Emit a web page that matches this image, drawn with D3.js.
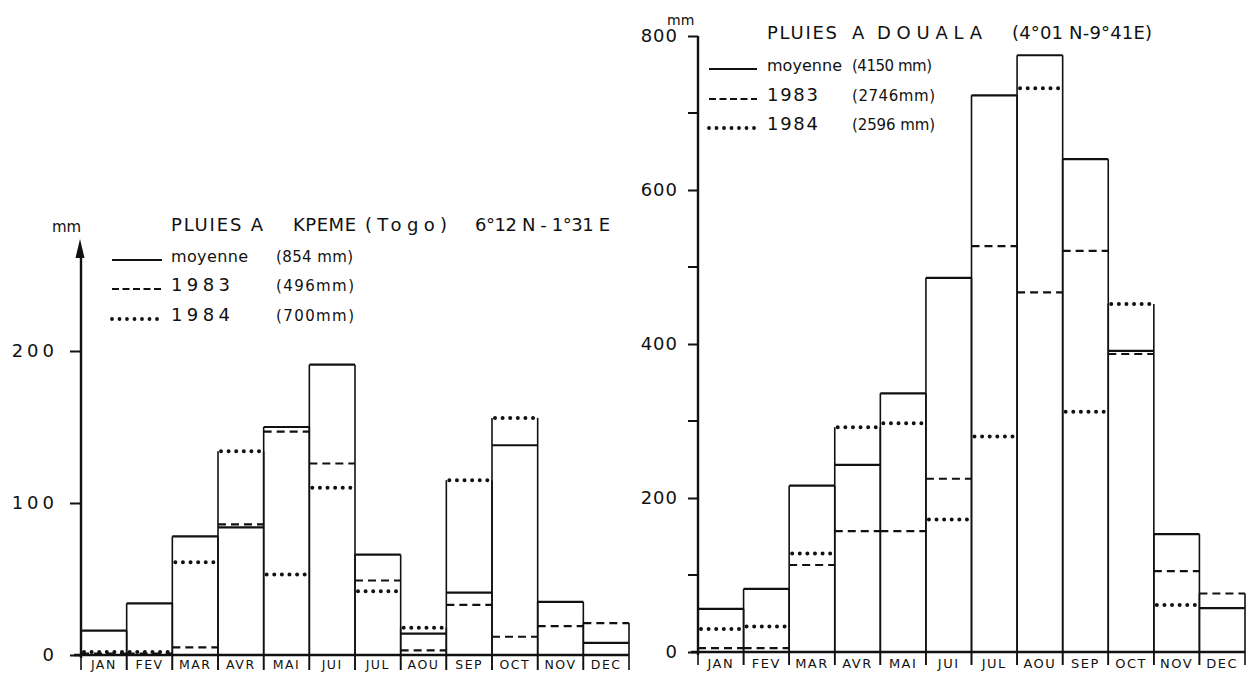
<!DOCTYPE html>
<html><head><meta charset="utf-8">
<script src="https://cdn.jsdelivr.net/npm/d3@7"></script>
<style>
html,body{margin:0;padding:0;background:#fff;}
svg{display:block;}
text{font-family:"DejaVu Sans","Liberation Sans",sans-serif;fill:#111;}
</style></head>
<body>
<svg id="chart" width="1246" height="674"></svg>
<script>
// ---------- DATA ----------
const months = ["JAN","FEV","MAR","AVR","MAI","JUI","JUL","AOU","SEP","OCT","NOV","DEC"];
const kpemeMoyenne = [16,34,78,84,150,191,66,14,41,138,35,8];
const kpeme1983    = [1,1,5,86,147,126,49,3,33,12,19,21];
const kpeme1984    = [2,2,61,134,53,110,42,18,115,156,null,null];
const doualaMoyenne = [56,82,216,243,336,486,723,775,640,391,153,57];
const douala1983    = [5,5,113,157,157,225,527,467,521,387,105,76];
const douala1984    = [30,33,128,292,297,172,280,732,312,452,61,null];
const kpemeTicks = [0,100,200];
const doualaTicks = [0,200,400,600,800];
const doualaMinorTicks = [100,300,500,700];
const kpemeTitle = ["PLUIES A","KPEME","(Togo)","6°12 N - 1°31 E"];
const doualaTitle = ["PLUIES","A","DOUALA","(4°01 N-9°41E)"];
const legendNames = ["moyenne","1983","1984"];
const kpemeTotals = ["(854 mm)","(496mm)","(700mm)"];
const doualaTotals = ["(4150 mm)","(2746mm)","(2596 mm)"];

// ---------- DRAW ----------
const svg = d3.select("#chart");
const INK = "#111";
const styles = [
  {w:2.2, dash:null, cap:"butt"},
  {w:2.2, dash:"8,5", cap:"butt"},
  {w:4, dash:"0,7.6", cap:"round"}
];

function panel(cfg){
  const g = svg.append("g");
  const x = d3.scaleBand().domain(months).range(cfg.xr).padding(0);
  const y = d3.scaleLinear().domain(cfg.yd).range(cfg.yr);
  const series = [cfg.moy, cfg.y83, cfg.y84];
  const y0 = y(0);

  months.forEach((m,i)=>{
    const vals = series.map(s=>s[i]).filter(v=>v!=null);
    const top = y(d3.max(vals));
    [x(m), x(m)+x.bandwidth()].forEach(xx=>{
      g.append("line").attr("x1",xx).attr("x2",xx)
        .attr("y1",y0+cfg.sepDown).attr("y2",top)
        .attr("stroke",INK).attr("stroke-width",1.6);
    });
  });
  series.forEach((s,k)=>{
    const st = styles[k];
    g.selectAll(null).data(months.map((m,i)=>({m,v:s[i]})).filter(d=>d.v!=null))
      .enter().append("line")
      .attr("x1",d=>x(d.m)+(k===2?3:0)).attr("x2",d=>x(d.m)+x.bandwidth()-(k===2?3:0))
      .attr("y1",d=>y(d.v)).attr("y2",d=>y(d.v))
      .attr("stroke",INK).attr("stroke-width",st.w)
      .attr("stroke-dasharray",st.dash).attr("stroke-linecap",st.cap);
  });
  g.append("line").attr("x1",cfg.xr[0]-7).attr("x2",cfg.xr[1])
    .attr("y1",y0).attr("y2",y0).attr("stroke",INK).attr("stroke-width",2.4);

  const xa = g.append("g").attr("transform",`translate(0,${y0})`)
    .call(d3.axisBottom(x).tickSize(0));
  xa.select(".domain").remove();
  xa.selectAll("text").attr("y",cfg.xLabY).attr("dy",0).attr("font-size",cfg.xFs)
    .attr("letter-spacing","1.5px")
    .attr("fill",INK).style("font-family","DejaVu Sans, sans-serif");

  const ya = g.append("g").attr("transform",`translate(${cfg.xr[0]},0)`)
    .call(d3.axisLeft(y).tickValues(cfg.ticks).tickSize(cfg.tickLen).tickPadding(cfg.tickPad));
  ya.select(".domain").remove();
  ya.selectAll("line").attr("stroke",INK).attr("stroke-width",2);
  ya.selectAll("text").attr("font-size",18).attr("letter-spacing",cfg.tickLS)
    .attr("fill",INK).style("font-family","DejaVu Sans, sans-serif");
  if(cfg.minor){
    g.selectAll(null).data(cfg.minor).enter().append("line")
      .attr("x1",cfg.xr[0]-cfg.tickLen).attr("x2",cfg.xr[0])
      .attr("y1",d=>y(d)).attr("y2",d=>y(d)).attr("stroke",INK).attr("stroke-width",2);
  }
  g.append("line").attr("x1",cfg.xr[0]).attr("x2",cfg.xr[0])
    .attr("y1",y0+3).attr("y2",cfg.axisTop).attr("stroke",INK).attr("stroke-width",2.4);
  return {g,x,y};
}

// ---- KPEME ----
panel({
  xr:[81,629], yd:[0,200], yr:[655,351],
  moy:kpemeMoyenne, y83:kpeme1983, y84:kpeme1984,
  ticks:kpemeTicks, tickLen:11, tickPad:12, tickLS:"4px",
  axisTop:250, sepDown:15, xLabY:14, xFs:12.5
});
svg.append("path").attr("d","M80,239 L75.5,258 L84.5,258 Z").attr("fill",INK);
svg.append("text").attr("x",52).attr("y",232).attr("font-size",15).text("mm");

function legend(cfg){
  cfg.title.forEach((t,i)=>{
    svg.append("text").attr("x",cfg.titleX[i]).attr("y",cfg.titleY)
      .attr("font-size",cfg.titleSize).attr("textLength",cfg.titleW[i])
      .attr("lengthAdjust","spacing").text(t);
  });
  legendNames.forEach((n,k)=>{
    const yy = cfg.rowY[k];
    svg.append("line").attr("x1",cfg.lineX[0]).attr("x2",cfg.lineX[1])
      .attr("y1",yy).attr("y2",yy).attr("stroke",INK)
      .attr("stroke-width",k===2?3.8:1.9)
      .attr("stroke-dasharray",k===1?"7,3.5":(k===2?"0,7.5":null))
      .attr("stroke-linecap",k===2?"round":"butt");
    svg.append("text").attr("x",cfg.nameX).attr("y",yy+cfg.textDy)
      .attr("font-size",k===0?16:18).attr("textLength",cfg.nameW[k])
      .attr("lengthAdjust","spacing").text(n);
    svg.append("text").attr("x",cfg.totX).attr("y",yy+cfg.textDy)
      .attr("font-size",15).attr("textLength",cfg.totW[k])
      .attr("lengthAdjust","spacing").text(cfg.totals[k]);
  });
}
legend({
  title:kpemeTitle, titleX:[171,293,365,475], titleW:[92,63,82,135], titleY:231, titleSize:18,
  rowY:[260,289,319], lineX:[112,162], nameX:171, nameW:[77,59,59], textDy:2,
  totX:276, totW:[77,78,78], totals:kpemeTotals
});

// ---- DOUALA ----
panel({
  xr:[698,1245], yd:[0,800], yr:[652,36],
  moy:doualaMoyenne, y83:douala1983, y84:douala1984,
  ticks:doualaTicks, tickLen:10, tickPad:10, tickLS:"1px", minor:doualaMinorTicks,
  axisTop:36, sepDown:13, xLabY:16, xFs:13
});
svg.append("text").attr("x",667).attr("y",25).attr("font-size",14).text("mm");
legend({
  title:doualaTitle, titleX:[767,852,877,1012], titleW:[70,11,105,140], titleY:39, titleSize:18,
  rowY:[69,99,128], lineX:[709,757], nameX:767, nameW:[75,51,51], textDy:2,
  totX:852, totW:[80,83,83], totals:doualaTotals
});
</script>
</body></html>
